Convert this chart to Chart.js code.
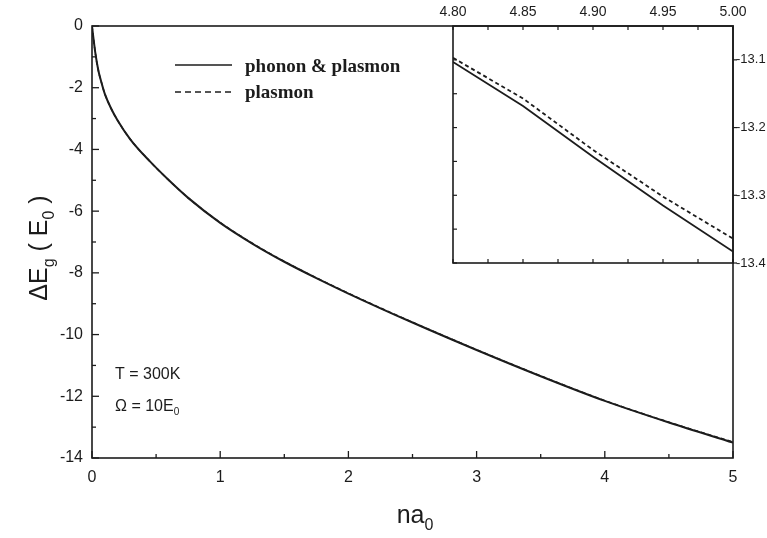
<!DOCTYPE html>
<html>
<head>
<meta charset="utf-8">
<script src="https://cdn.jsdelivr.net/npm/chart.js@4"></script>
<style>
  html, body { margin: 0; padding: 0; background: #fff; }
  #wrap { position: relative; width: 767px; height: 538px; }
  #mainChart { position: absolute; left: 0; top: 0; }
  #insetChart { position: absolute; left: 420px; top: 0; }
</style>
</head>
<body>
<div id="wrap">
  <canvas id="mainChart" width="767" height="538"></canvas>
  <canvas id="insetChart" width="347" height="275"></canvas>
</div>
<script>
// main panel: na0 vs band gap shift
const naValues = [0, 0.01, 0.025, 0.05, 0.075, 0.1, 0.15, 0.2, 0.3, 0.45, 0.6, 0.75, 1.0, 1.25, 1.5, 1.75, 2.0, 2.5, 3.0, 3.5, 4.0, 4.5, 5.0];
const phononPlasmon = [0, -0.35, -0.85, -1.45, -1.85, -2.2, -2.68, -3.06, -3.68, -4.38, -5.0, -5.57, -6.38, -7.05, -7.64, -8.17, -8.67, -9.61, -10.5, -11.35, -12.15, -12.85, -13.5];
const plasmonOnly = [0, -0.35, -0.85, -1.45, -1.85, -2.2, -2.68, -3.06, -3.68, -4.38, -5.0, -5.57, -6.37, -7.04, -7.63, -8.16, -8.66, -9.6, -10.49, -11.34, -12.14, -12.84, -13.48];

// inset: zoom on 4.80 - 5.00
const insetNa = [4.80, 4.85, 4.90, 4.95, 5.00];
const insetPhononPlasmon = [-13.103, -13.168, -13.243, -13.315, -13.383];
const insetPlasmon = [-13.097, -13.157, -13.233, -13.302, -13.364];

// tick labels
const xTickLabels = [0, 1, 2, 3, 4, 5];
const yTickLabels = [0, -2, -4, -6, -8, -10, -12, -14];
const insetXTickLabels = [4.80, 4.85, 4.90, 4.95, 5.00];
const insetYTickLabels = [-13.1, -13.2, -13.3, -13.4];

const ink = '#1c1c1c';
const sans = '"Liberation Sans", Arial, sans-serif';
const serif = '"Liberation Serif", "Times New Roman", serif';

function pts(xs, ys) {
    return xs.map((x, i) => ({ x: x, y: ys[i] }));
}

// text with subscripts, parts = [[text, isSub], ...]
function richText(ctx, parts, x, y, size, align) {
    const subSize = Math.round(size * 0.62);
    let total = 0;
    parts.forEach(p => {
        ctx.font = (p[1] ? subSize : size) + 'px ' + sans;
        total += ctx.measureText(p[0]).width;
    });
    let cx = align === 'center' ? x - total / 2 : x;
    ctx.textAlign = 'left';
    ctx.textBaseline = 'alphabetic';
    parts.forEach(p => {
        ctx.font = (p[1] ? subSize : size) + 'px ' + sans;
        ctx.fillText(p[0], cx, p[1] ? y + size * 0.28 : y);
        cx += ctx.measureText(p[0]).width;
    });
}

function line(ctx, x1, y1, x2, y2) {
    ctx.beginPath();
    ctx.moveTo(x1, y1);
    ctx.lineTo(x2, y2);
    ctx.stroke();
}

const mainDecor = {
    id: 'mainDecor',
    afterDraw(chart) {
        const { ctx, chartArea: a, scales: { x, y } } = chart;
        ctx.save();
        ctx.strokeStyle = ink;
        ctx.fillStyle = ink;
        ctx.lineWidth = 1.6;
        ctx.strokeRect(a.left, a.top, a.width, a.height);

        // inward ticks
        ctx.lineWidth = 1.3;
        for (let v = 0; v <= 5.001; v += 0.5) {
            const px = x.getPixelForValue(v);
            const len = Math.abs(v - Math.round(v)) < 1e-6 ? 7 : 4;
            line(ctx, px, a.bottom, px, a.bottom - len);
        }
        for (let v = -14; v <= 0; v += 1) {
            const py = y.getPixelForValue(v);
            const len = v % 2 === 0 ? 7 : 4;
            line(ctx, a.left, py, a.left + len, py);
        }

        // axis titles
        richText(ctx, [['na', false], ['0', true]], 415, 523, 25, 'center');
        ctx.save();
        ctx.translate(47, 248);
        ctx.rotate(-Math.PI / 2);
        richText(ctx, [['\u0394E', false], ['g', true], [' ( E', false], ['0', true], [' )', false]], 0, 0, 25, 'center');
        ctx.restore();

        // parameters
        richText(ctx, [['T = 300K', false]], 115, 379, 16, 'left');
        richText(ctx, [['\u03A9 = 10E', false], ['0', true]], 115, 411, 16, 'left');

        // legend
        ctx.lineWidth = 1.5;
        line(ctx, 175, 65, 232, 65);
        ctx.setLineDash([6, 4]);
        line(ctx, 175, 92, 232, 92);
        ctx.setLineDash([]);
        ctx.font = 'bold 19px ' + serif;
        ctx.textAlign = 'left';
        ctx.textBaseline = 'middle';
        ctx.fillText('phonon & plasmon', 245, 67);
        ctx.fillText('plasmon', 245, 93);
        ctx.restore();
    }
};

const insetDecor = {
    id: 'insetDecor',
    afterDraw(chart) {
        const { ctx, chartArea: a, scales: { x, y } } = chart;
        ctx.save();
        ctx.strokeStyle = ink;
        ctx.lineWidth = 1.6;
        ctx.strokeRect(a.left, a.top, a.width, a.height);
        ctx.lineWidth = 1.2;
        for (let v = 4.8; v <= 5.0001; v += 0.025) {
            const px = x.getPixelForValue(v);
            line(ctx, px, a.top, px, a.top + 4);
            line(ctx, px, a.bottom, px, a.bottom - 4);
        }
        for (let v = -13.4; v <= -13.05; v += 0.05) {
            const py = y.getPixelForValue(v);
            line(ctx, a.left, py, a.left + 4, py);
        }
        insetYTickLabels.forEach(v => {
            const py = y.getPixelForValue(v);
            line(ctx, a.right, py, a.right + 4, py);
        });
        ctx.restore();
    }
};

new Chart(document.getElementById('mainChart'), {
    type: 'line',
    data: {
        datasets: [{
            label: 'phonon & plasmon',
            data: pts(naValues, phononPlasmon),
            borderColor: ink,
            borderWidth: 2,
            pointRadius: 0,
            cubicInterpolationMode: 'monotone'
        }, {
            label: 'plasmon',
            data: pts(naValues, plasmonOnly),
            borderColor: ink,
            borderWidth: 1.5,
            borderDash: [4, 3],
            pointRadius: 0,
            cubicInterpolationMode: 'monotone'
        }]
    },
    options: {
        responsive: false,
        animation: false,
        layout: { padding: { top: 26, right: 34, left: 0, bottom: 50 } },
        plugins: { legend: { display: false }, tooltip: { enabled: false } },
        scales: {
            x: {
                type: 'linear', min: 0, max: 5,
                afterBuildTicks: s => { s.ticks = xTickLabels.map(v => ({ value: v })); },
                afterFit: s => { s.height = 30; },
                grid: { display: false, drawTicks: false },
                border: { display: false },
                ticks: { color: ink, padding: 10, font: { family: sans, size: 16 } }
            },
            y: {
                type: 'linear', min: -14, max: 0,
                afterBuildTicks: s => { s.ticks = yTickLabels.map(v => ({ value: v })); },
                afterFit: s => { s.width = 92; },
                grid: { display: false, drawTicks: false },
                border: { display: false },
                ticks: { color: ink, padding: 9, font: { family: sans, size: 16 } }
            }
        }
    },
    plugins: [mainDecor]
});

new Chart(document.getElementById('insetChart'), {
    type: 'line',
    data: {
        datasets: [{
            label: 'phonon & plasmon',
            data: pts(insetNa, insetPhononPlasmon),
            borderColor: ink,
            borderWidth: 1.8,
            pointRadius: 0
        }, {
            label: 'plasmon',
            data: pts(insetNa, insetPlasmon),
            borderColor: ink,
            borderWidth: 1.8,
            borderDash: [4, 3],
            pointRadius: 0
        }]
    },
    options: {
        responsive: false,
        animation: false,
        layout: { padding: { top: 0, right: 0, left: 33, bottom: 12 } },
        plugins: { legend: { display: false }, tooltip: { enabled: false } },
        scales: {
            x: {
                type: 'linear', position: 'top', min: 4.8, max: 5.0,
                afterBuildTicks: s => { s.ticks = insetXTickLabels.map(v => ({ value: v })); },
                afterFit: s => { s.height = 26; },
                grid: { display: false, drawTicks: false },
                border: { display: false },
                ticks: {
                    color: ink, padding: 5, maxRotation: 0,
                    font: { family: sans, size: 14 },
                    callback: v => Number(v).toFixed(2)
                }
            },
            y: {
                type: 'linear', position: 'right', min: -13.4, max: -13.05,
                afterBuildTicks: s => { s.ticks = insetYTickLabels.map(v => ({ value: v })); },
                afterFit: s => { s.width = 34; },
                grid: { display: false, drawTicks: false },
                border: { display: false },
                ticks: {
                    color: ink, padding: 3,
                    font: { family: sans, size: 13 },
                    callback: v => Number(v).toFixed(1)
                }
            }
        }
    },
    plugins: [insetDecor]
});
</script>
</body>
</html>
